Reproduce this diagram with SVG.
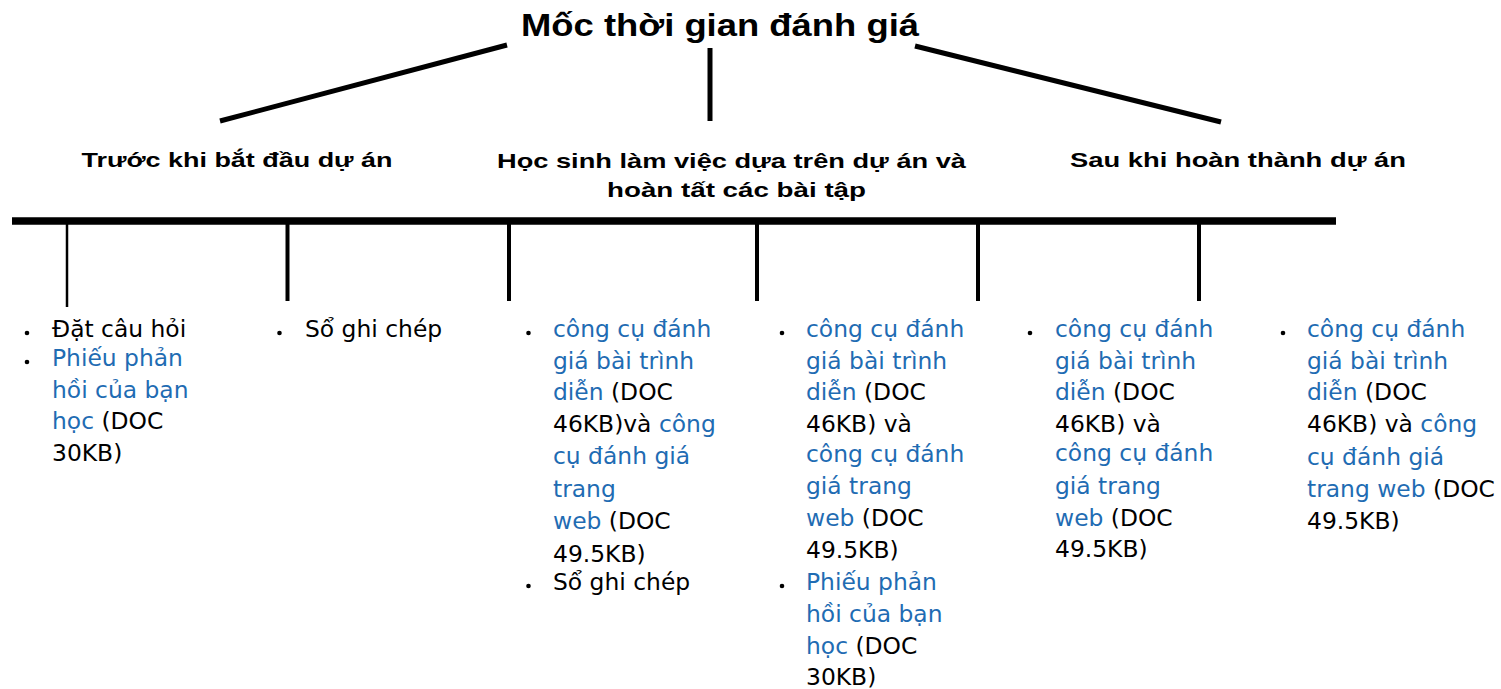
<svg xmlns="http://www.w3.org/2000/svg" width="1501" height="689" viewBox="0 0 1501 689">
<style>
.title{font-family:"Liberation Sans",Arial,sans-serif;font-weight:bold;font-size:32px;fill:#000}
.phase{font-family:"Liberation Sans",Arial,sans-serif;font-weight:bold;font-size:21px;fill:#000}
.item{font-family:"DejaVu Sans",Verdana,sans-serif;font-size:23.4px;fill:#000}
.lnk{fill:#1f6cb3}
.ln{stroke:#000;stroke-linecap:butt;fill:none}
</style>
<defs>
<circle id="dot" r="2.3" fill="#000"/>
</defs>
<rect width="1501" height="689" fill="#fff"/>
<g id="connectors">
<line class="ln" x1="507" y1="45" x2="220" y2="121" stroke-width="5"/>
<line class="ln" x1="710" y1="48" x2="710" y2="121" stroke-width="5"/>
<line class="ln" x1="915" y1="46" x2="1221" y2="122" stroke-width="5"/>
<line class="ln" x1="12" y1="221" x2="1336" y2="221" stroke-width="7.5"/>
<line class="ln" x1="67" y1="221" x2="67" y2="307" stroke-width="2.5"/>
<line class="ln" x1="287.5" y1="221" x2="287.5" y2="301" stroke-width="4"/>
<line class="ln" x1="509" y1="221" x2="509" y2="301" stroke-width="4"/>
<line class="ln" x1="757" y1="221" x2="757" y2="301" stroke-width="4"/>
<line class="ln" x1="978" y1="221" x2="978" y2="301" stroke-width="4"/>
<line class="ln" x1="1199" y1="221" x2="1199" y2="301" stroke-width="4"/>
</g>
<g id="title">
<text class="title" x="521" y="36" textLength="398" lengthAdjust="spacingAndGlyphs">Mốc thời gian đánh giá</text>
</g>
<g id="phase-before">
<text class="phase" x="81.5" y="167" textLength="311" lengthAdjust="spacingAndGlyphs">Trước khi bắt đầu dự án</text>
</g>
<g id="phase-during">
<text class="phase" x="497" y="168" textLength="469" lengthAdjust="spacingAndGlyphs">Học sinh làm việc dựa trên dự án và</text>
<text class="phase" x="607" y="197" textLength="259" lengthAdjust="spacingAndGlyphs">hoàn tất các bài tập</text>
</g>
<g id="phase-after">
<text class="phase" x="1070" y="167" textLength="336" lengthAdjust="spacingAndGlyphs">Sau khi hoàn thành dự án</text>
</g>
<g id="col1">
<use href="#dot" x="27" y="333"/>
<use href="#dot" x="27" y="362"/>
<text class="item" x="52" y="337">Đặt câu hỏi</text>
<text class="item" x="52"><tspan class="lnk" x="52" y="366">Phiếu phản</tspan><tspan class="lnk" x="52" y="397.5">hồi của bạn</tspan><tspan x="52" y="429"><tspan class="lnk">học</tspan> (DOC</tspan><tspan x="52" y="460.5">30KB)</tspan></text>
</g>
<g id="col2">
<use href="#dot" x="279.5" y="333"/>
<text class="item" x="305" y="337">Sổ ghi chép</text>
</g>
<g id="col3">
<use href="#dot" x="528.5" y="333"/>
<use href="#dot" x="528.5" y="586"/>
<text class="item"><tspan class="lnk" x="553" y="337">công cụ đánh</tspan><tspan class="lnk" x="553" y="368.5">giá bài trình</tspan><tspan x="553" y="400"><tspan class="lnk">diễn</tspan> (DOC</tspan><tspan x="553" y="432">46KB)và <tspan class="lnk">công</tspan></tspan><tspan class="lnk" x="553" y="464">cụ đánh giá</tspan><tspan class="lnk" x="553" y="496.5">trang</tspan><tspan x="553" y="529"><tspan class="lnk">web</tspan> (DOC</tspan><tspan x="553" y="561.5">49.5KB)</tspan></text>
<text class="item" x="553" y="590">Sổ ghi chép</text>
</g>
<g id="col4">
<use href="#dot" x="782" y="333"/>
<use href="#dot" x="782" y="586"/>
<text class="item"><tspan class="lnk" x="806" y="337">công cụ đánh</tspan><tspan class="lnk" x="806" y="368.5">giá bài trình</tspan><tspan x="806" y="400"><tspan class="lnk">diễn</tspan> (DOC</tspan><tspan x="806" y="432">46KB) và</tspan><tspan class="lnk" x="806" y="461.5">công cụ đánh</tspan><tspan class="lnk" x="806" y="493.5">giá trang</tspan><tspan x="806" y="526"><tspan class="lnk">web</tspan> (DOC</tspan><tspan x="806" y="558">49.5KB)</tspan></text>
<text class="item"><tspan class="lnk" x="806" y="589.5">Phiếu phản</tspan><tspan class="lnk" x="806" y="621.5">hồi của bạn</tspan><tspan x="806" y="653.5"><tspan class="lnk">học</tspan> (DOC</tspan><tspan x="806" y="685">30KB)</tspan></text>
</g>
<g id="col5">
<use href="#dot" x="1030" y="333"/>
<text class="item"><tspan class="lnk" x="1055" y="337">công cụ đánh</tspan><tspan class="lnk" x="1055" y="368.5">giá bài trình</tspan><tspan x="1055" y="400"><tspan class="lnk">diễn</tspan> (DOC</tspan><tspan x="1055" y="432">46KB) và</tspan><tspan class="lnk" x="1055" y="461">công cụ đánh</tspan><tspan class="lnk" x="1055" y="493.5">giá trang</tspan><tspan x="1055" y="526"><tspan class="lnk">web</tspan> (DOC</tspan><tspan x="1055" y="557">49.5KB)</tspan></text>
</g>
<g id="col6">
<use href="#dot" x="1283" y="333"/>
<text class="item"><tspan class="lnk" x="1307" y="337">công cụ đánh</tspan><tspan class="lnk" x="1307" y="368.5">giá bài trình</tspan><tspan x="1307" y="400"><tspan class="lnk">diễn</tspan> (DOC</tspan><tspan x="1307" y="432">46KB) và <tspan class="lnk">công</tspan></tspan><tspan class="lnk" x="1307" y="465">cụ đánh giá</tspan><tspan x="1307" y="496.5"><tspan class="lnk">trang web</tspan> (DOC</tspan><tspan x="1307" y="529">49.5KB)</tspan></text>
</g>
</svg>
